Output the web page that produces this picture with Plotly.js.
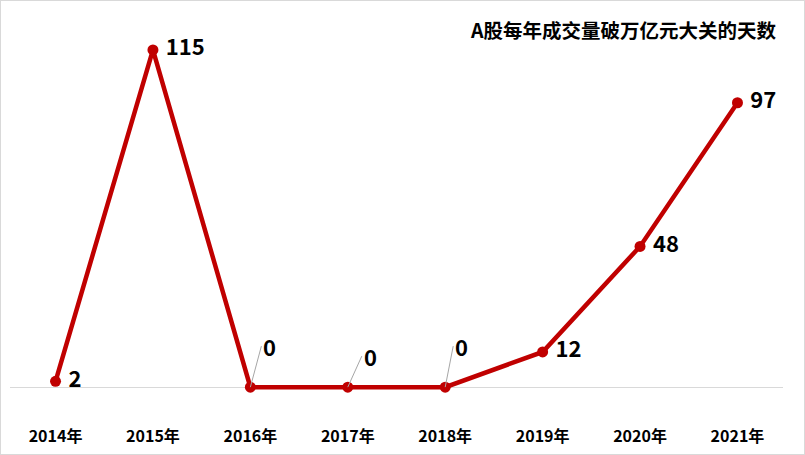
<!DOCTYPE html>
<html>
<head>
<meta charset="utf-8">
<script src="https://cdn.plot.ly/plotly-3.0.1.min.js"></script>
<style>
  html, body { margin: 0; padding: 0; background: #fff; }
  #chart { width: 803px; height: 453px; border: 1px solid #d9d9d9; }
</style>
</head>
<body>
<div id="chart"></div>
<script>
// 每年成交量破万亿的天数
var years = ['2014年', '2015年', '2016年', '2017年', '2018年', '2019年', '2020年', '2021年'];
var days = [2, 115, 0, 0, 0, 12, 48, 97];

var redLine = '#C00000';
var fontFam = '"Noto Sans CJK SC", "Noto Sans", sans-serif';

// labels that sit right of the point (non-zero values)
var labelText = days.map(function(d) { return d === 0 ? '' : ' ' + d; });

var trace = {
    x: years,
    y: days,
    type: 'scatter',
    mode: 'lines+markers+text',
    text: labelText,
    textposition: 'middle right',
    textfont: { family: fontFam, size: 22, color: '#000', weight: 'bold' },
    line: { color: redLine, width: 4.5 },
    marker: { color: redLine, size: 11 },
    cliponaxis: false,
    hoverinfo: 'skip'
};

// zero values get a label with a little grey leader line
var zeroOffsets = [[11, -41], [14, -31], [8, -41]];
var annots = [];
var k = 0;
days.forEach(function(d, i) {
    if (d !== 0) return;
    var off = zeroOffsets[k++];
    annots.push({
        x: years[i], y: d, xref: 'x', yref: 'y',
        text: '<b>0</b>',
        showarrow: true, arrowhead: 0, arrowwidth: 1, arrowcolor: '#a6a6a6',
        ax: off[0], ay: off[1], xanchor: 'left',
        font: { family: fontFam, size: 22, color: '#000' }
    });
});

annots.push({
    xref: 'paper', yref: 'paper', x: 0.995, y: 0.94, xanchor: 'right', yanchor: 'middle',
    text: '<b>A股每年成交量破万亿元大关的天数</b>', showarrow: false,
    font: { family: fontFam, size: 19.5, color: '#000' }
});

var layout = {
    width: 803,
    height: 453,
    margin: { l: 9, r: 21, t: 5, b: 61 },
    paper_bgcolor: '#fff',
    plot_bgcolor: '#fff',
    showlegend: false,
    font: { family: fontFam },
    xaxis: {
        type: 'category',
        showgrid: false,
        zeroline: false,
        showline: false,
        ticks: '',
        tickfont: { family: fontFam, size: 16, color: '#000', weight: 'bold' },
        ticklabelstandoff: 32
    },
    yaxis: {
        range: [-2, 130],
        showgrid: false,
        zeroline: true,
        zerolinecolor: '#d9d9d9',
        zerolinewidth: 1,
        showticklabels: false,
        ticks: ''
    },
    annotations: annots
};

Plotly.newPlot('chart', [trace], layout, { displayModeBar: false, staticPlot: true });
</script>
</body>
</html>
